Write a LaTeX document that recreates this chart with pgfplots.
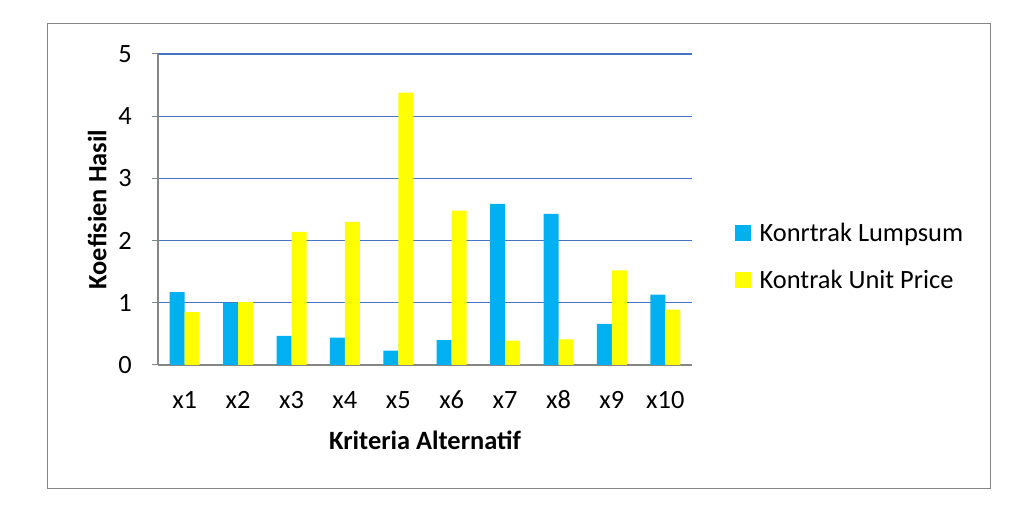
\documentclass[border=0pt]{standalone}
\usepackage{fontspec}
\setmainfont{Carlito}
\usepackage{pgfplots}
\pgfplotsset{compat=1.18}
\definecolor{lumpblue}{RGB}{0,176,240}
\definecolor{unityellow}{RGB}{255,255,0}
\definecolor{gridblue}{RGB}{70,115,195}
\definecolor{axgray}{RGB}{134,134,134}

\pgfplotstableread{
idx lump unit
1   1.17 0.85
2   1.00 1.01
3   0.47 2.14
4   0.44 2.30
5   0.23 4.38
6   0.40 2.48
7   2.59 0.39
8   2.43 0.41
9   0.66 1.52
10  1.13 0.89
}\koefdata

\begin{document}
\begin{tikzpicture}
  % page bounds and outer frame (1 px of the reference = 0.75pt)
  \path (0pt,0pt) rectangle (777pt,385.5pt);
  \draw[axgray, line width=0.75pt] (35.25pt,18.75pt) rectangle (742.5pt,367.5pt);
  \begin{axis}[
    at={(118.5pt,111.75pt)}, anchor=south west,
    scale only axis,
    width=400.5pt, height=233.25pt,
    ybar=0pt, bar width=11.25pt,
    xmin=0.5, xmax=10.5,
    ymin=0, ymax=5,
    xtick={1,...,10},
    xticklabels={x1,x2,x3,x4,x5,x6,x7,x8,x9,x10},
    ytick={0,1,2,3,4,5},
    axis lines*=left,
    axis line style={axgray, line width=1.2pt},
    y axis line style={line width=1.5pt},
    tick align=outside,
    major tick length=4.5pt,
    xtick style={draw=none},
    ytick style={axgray, line width=0.75pt},
    ymajorgrids,
    grid style={gridblue, line width=0.9pt},
    font=\fontsize{19.8}{23}\selectfont,
    /pgf/number format/assume math mode=true,
    x tick label style={anchor=center, yshift=-21.5pt},
    y tick label style={anchor=east, inner sep=0pt, xshift=-15pt},
    xlabel={\bfseries Kriteria Alternatif},
    ylabel={\bfseries Koefisien Hasil},
    xlabel style={at={(axis description cs:0.5,-0.241)}, anchor=center},
    ylabel style={at={(axis description cs:-0.114,0.5)}, anchor=center},
    legend style={at={(axis description cs:1.08,0.349)}, anchor=west,
      draw=none, fill=none, font=\fontsize{19.8}{23}\selectfont,
      row sep=16pt, inner sep=0pt,
      /tikz/every odd column/.append style={column sep=4.5pt}},
    legend cell align=left,
    legend image code/.code={\fill[#1] (0pt,-6pt) rectangle (12pt,6pt);},
  ]
    \addplot[fill=lumpblue, draw=none] table[x=idx, y=lump] {\koefdata};
    \addlegendentry{Konrtrak Lumpsum}
    \addplot[fill=unityellow, draw=none] table[x=idx, y=unit] {\koefdata};
    \addlegendentry{Kontrak Unit Price}
  \end{axis}
\end{tikzpicture}
\end{document}
